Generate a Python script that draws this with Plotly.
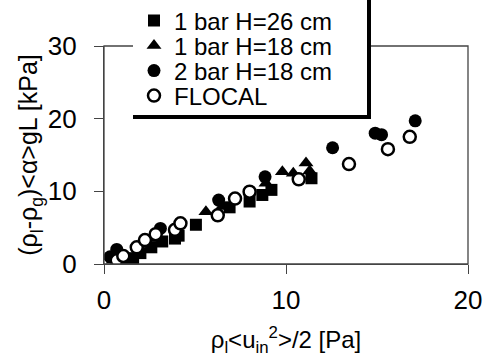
import plotly.graph_objects as go

sq_x = [0.7, 1.25, 1.6, 2.0, 2.6, 3.2, 3.9, 4.1, 5.05, 6.9, 8.0, 8.7, 9.2, 11.4]
sq_y = [0.1, 0.3, 0.8, 1.5, 2.3, 3.1, 3.5, 3.9, 5.4, 7.8, 8.6, 9.5, 10.2, 11.8]
tr_x = [0.5, 1.0, 2.7, 5.6, 6.5, 8.9, 9.8, 10.4, 11.1, 11.3]
tr_y = [0.5, 0.8, 3.5, 7.2, 7.9, 11.1, 12.7, 12.5, 13.9, 12.8]
fc_x = [0.33, 0.7, 3.1, 6.3, 8.85, 12.56, 14.9, 15.25, 17.1]
fc_y = [1.0, 2.0, 4.9, 8.8, 12.0, 16.0, 18.0, 17.8, 19.7]
oc_x = [0.7, 1.06, 1.8, 2.25, 2.84, 3.9, 4.2, 6.25, 7.2, 8.0, 10.7, 13.46, 15.6, 16.8]
oc_y = [0.5, 1.1, 2.3, 3.3, 4.1, 4.7, 5.6, 6.7, 9.0, 9.95, 11.65, 13.75, 15.8, 17.5]

names = ["1 bar H=26 cm", "1 bar H=18 cm", "2 bar H=18 cm", "FLOCAL"]
x_ticks = [0, 10, 20]
y_ticks = [0, 10, 20, 30]

FONT = "Arial, Liberation Sans, sans-serif"
W, H = 486, 363
L, R, T, B = 104, 18, 46, 99
pw, ph = W - L - R, H - T - B
LINE_C = "#444"


def px2x(px):
    return (px - L) / pw


def py2y(py):
    return (H - B - py) / ph


fig = go.Figure()
fig.add_trace(go.Scatter(x=sq_x, y=sq_y, mode="markers", name=names[0], legend="legend",
                         showlegend=True,
                         marker=dict(symbol="square", size=12, color="black")))
fig.add_trace(go.Scatter(x=tr_x, y=tr_y, mode="markers", name=names[1], legend="legend2",
                         marker=dict(symbol="triangle-up", size=13, color="black")))
fig.add_trace(go.Scatter(x=fc_x, y=fc_y, mode="markers", name=names[2], legend="legend3",
                         marker=dict(symbol="circle", size=13, color="black")))
fig.add_trace(go.Scatter(x=oc_x, y=oc_y, mode="markers", name=names[3], legend="legend4",
                         marker=dict(symbol="circle", size=12, color="white",
                                     line=dict(color="black", width=2.5))))

axis_common = dict(showgrid=False, zeroline=False, showline=True, linecolor=LINE_C,
                   linewidth=1.3, mirror=False, ticks="outside", ticklen=9, tickwidth=1.3,
                   tickcolor=LINE_C, tickfont=dict(family=FONT, size=26, color="black"))

fig.update_xaxes(range=[0, 20], tickvals=x_ticks, ticklabelstandoff=4,
                 title=dict(text="ρ<sub>l</sub>&lt;u<sub>in</sub><sup>2</sup>&gt;/2 [Pa]",
                            font=dict(family=FONT, size=24, color="black"), standoff=16),
                 **axis_common)
fig.update_yaxes(range=[0, 30], tickvals=y_ticks, ticklabelstandoff=12,
                 title=dict(text="(ρ<sub>l</sub>-ρ<sub>g</sub>)&lt;α&gt;gL [kPa]",
                            font=dict(family=FONT, size=25, color="black"), standoff=2),
                 **axis_common)

shapes = [
    dict(type="rect", xref="paper", yref="paper", x0=0, x1=1, y0=0, y1=1,
         line=dict(color=LINE_C, width=1.3), layer="above"),
    dict(type="rect", xref="paper", yref="paper", x0=px2x(133), x1=px2x(370),
         y0=py2y(117), y1=py2y(-5), fillcolor="white", line=dict(width=0), layer="above"),
    dict(type="line", xref="paper", yref="paper", x0=px2x(133), x1=px2x(371),
         y0=py2y(117), y1=py2y(117), line=dict(color="black", width=4), layer="above"),
    dict(type="line", xref="paper", yref="paper", x0=px2x(369), x1=px2x(369),
         y0=py2y(119), y1=py2y(-5), line=dict(color="black", width=4), layer="above"),
]

legend_font = dict(family=FONT, size=24, color="black")
row_centers = [21, 46, 71, 96]
legends = {}
for i, key in enumerate(["legend", "legend2", "legend3", "legend4"]):
    legends[key] = dict(x=px2x(134), y=py2y(row_centers[i]), xanchor="left", yanchor="middle",
                        bgcolor="rgba(0,0,0,0)", borderwidth=0, itemwidth=30,
                        font=legend_font)

fig.update_layout(
    width=W, height=H, margin=dict(l=L, r=R, t=T, b=B, autoexpand=False),
    plot_bgcolor="white", paper_bgcolor="white",
    font=dict(family=FONT, color="black"),
    shapes=shapes, showlegend=True,
    **legends,
)

fig.write_html("out.html")
